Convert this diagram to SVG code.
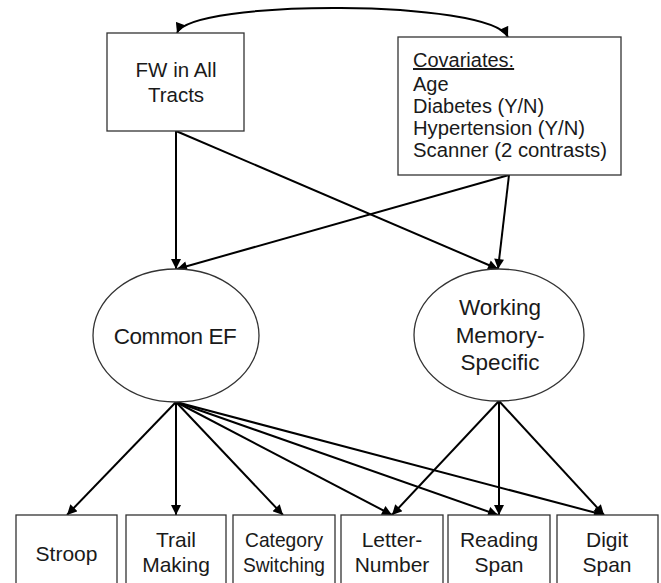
<svg xmlns="http://www.w3.org/2000/svg" width="661" height="583" viewBox="0 0 661 583">
<style>
  .box { fill: #ffffff; stroke: #333333; stroke-width: 1.3; }
  .ell { fill: #ffffff; stroke: #333333; stroke-width: 1.3; }
  .t { font-family: "Liberation Sans", Arial, sans-serif; fill: #1a1a1a; }
  .c { text-anchor: middle; }
  .edge { fill: none; stroke: #000000; stroke-width: 2; marker-end: url(#ah); }
</style>
<defs>
  <marker id="ah" viewBox="0 0 10 10" refX="10" refY="5" markerWidth="5.5" markerHeight="5" orient="auto" markerUnits="strokeWidth">
    <path d="M0,0 L10,5 L0,10 z" fill="#000000"/>
  </marker>
  <marker id="ahs" viewBox="0 0 10 10" refX="0" refY="5" markerWidth="5.5" markerHeight="5" orient="auto" markerUnits="strokeWidth">
    <path d="M10,0 L0,5 L10,10 z" fill="#000000"/>
  </marker>
</defs>
<rect width="661" height="583" fill="#ffffff"/>

<g id="connectors">
  <path d="M177,33 C190,-1 490,-1 508,37" fill="none" stroke="#000" stroke-width="2" marker-start="url(#ahs)" marker-end="url(#ah)"/>
  <line class="edge" x1="176" y1="131" x2="176" y2="269"/>
  <line class="edge" x1="176" y1="131" x2="498" y2="269"/>
  <line class="edge" x1="509" y1="175" x2="177" y2="269"/>
  <line class="edge" x1="509" y1="175" x2="498" y2="269"/>
  <line class="edge" x1="176" y1="402" x2="67" y2="515"/>
  <line class="edge" x1="176" y1="402" x2="176" y2="515"/>
  <line class="edge" x1="176" y1="402" x2="283" y2="515"/>
  <line class="edge" x1="176" y1="402" x2="392" y2="515"/>
  <line class="edge" x1="176" y1="402" x2="498" y2="515"/>
  <line class="edge" x1="176" y1="402" x2="604" y2="515"/>
  <line class="edge" x1="499" y1="401" x2="392" y2="515"/>
  <line class="edge" x1="499" y1="401" x2="499" y2="515"/>
  <line class="edge" x1="499" y1="401" x2="604" y2="515"/>
</g>

<g id="fw">
  <rect class="box" x="107" y="33" width="137" height="98"/>
  <text class="t c" x="176" y="77" font-size="20.5">FW in All</text>
  <text class="t c" x="176" y="102" font-size="20.5">Tracts</text>
</g>

<g id="covariates">
  <rect class="box" x="398" y="37" width="223" height="138"/>
  <text class="t" x="413" y="67" font-size="20" text-decoration="underline">Covariates:</text>
  <text class="t" x="413" y="91" font-size="20">Age</text>
  <text class="t" x="413" y="113" font-size="20">Diabetes  (Y/N)</text>
  <text class="t" x="413" y="135" font-size="20" textLength="172" lengthAdjust="spacingAndGlyphs">Hypertension  (Y/N)</text>
  <text class="t" x="413" y="157" font-size="20" textLength="194" lengthAdjust="spacingAndGlyphs">Scanner (2 contrasts)</text>
</g>

<g id="common-ef">
  <ellipse class="ell" cx="176" cy="335.5" rx="83" ry="66.5"/>
  <text class="t c" x="175" y="344" font-size="22.5" letter-spacing="-0.4">Common EF</text>
</g>

<g id="wm-specific">
  <ellipse class="ell" cx="499" cy="335" rx="85" ry="66"/>
  <text class="t c" x="500" y="315" font-size="22.5">Working</text>
  <text class="t c" x="500" y="343" font-size="22.5">Memory-</text>
  <text class="t c" x="500" y="370" font-size="22.5">Specific</text>
</g>

<g id="stroop">
  <rect class="box" x="16" y="515" width="101" height="80"/>
  <text class="t c" x="66.5" y="561" font-size="21">Stroop</text>
</g>
<g id="trail-making">
  <rect class="box" x="126" y="515" width="100" height="80"/>
  <text class="t c" x="176" y="547" font-size="21">Trail</text>
  <text class="t c" x="176" y="572" font-size="21">Making</text>
</g>
<g id="category-switching">
  <rect class="box" x="233" y="515" width="102" height="80"/>
  <text class="t c" x="284" y="547" font-size="21" textLength="78" lengthAdjust="spacingAndGlyphs">Category</text>
  <text class="t c" x="284" y="572" font-size="21" textLength="82" lengthAdjust="spacingAndGlyphs">Switching</text>
</g>
<g id="letter-number">
  <rect class="box" x="341" y="515" width="102" height="80"/>
  <text class="t c" x="392" y="547" font-size="21">Letter-</text>
  <text class="t c" x="392" y="572" font-size="21">Number</text>
</g>
<g id="reading-span">
  <rect class="box" x="448" y="515" width="102" height="80"/>
  <text class="t c" x="499" y="547" font-size="21">Reading</text>
  <text class="t c" x="499" y="572" font-size="21">Span</text>
</g>
<g id="digit-span">
  <rect class="box" x="557" y="515" width="101" height="80"/>
  <text class="t c" x="607" y="547" font-size="21">Digit</text>
  <text class="t c" x="607" y="572" font-size="21">Span</text>
</g>
</svg>
